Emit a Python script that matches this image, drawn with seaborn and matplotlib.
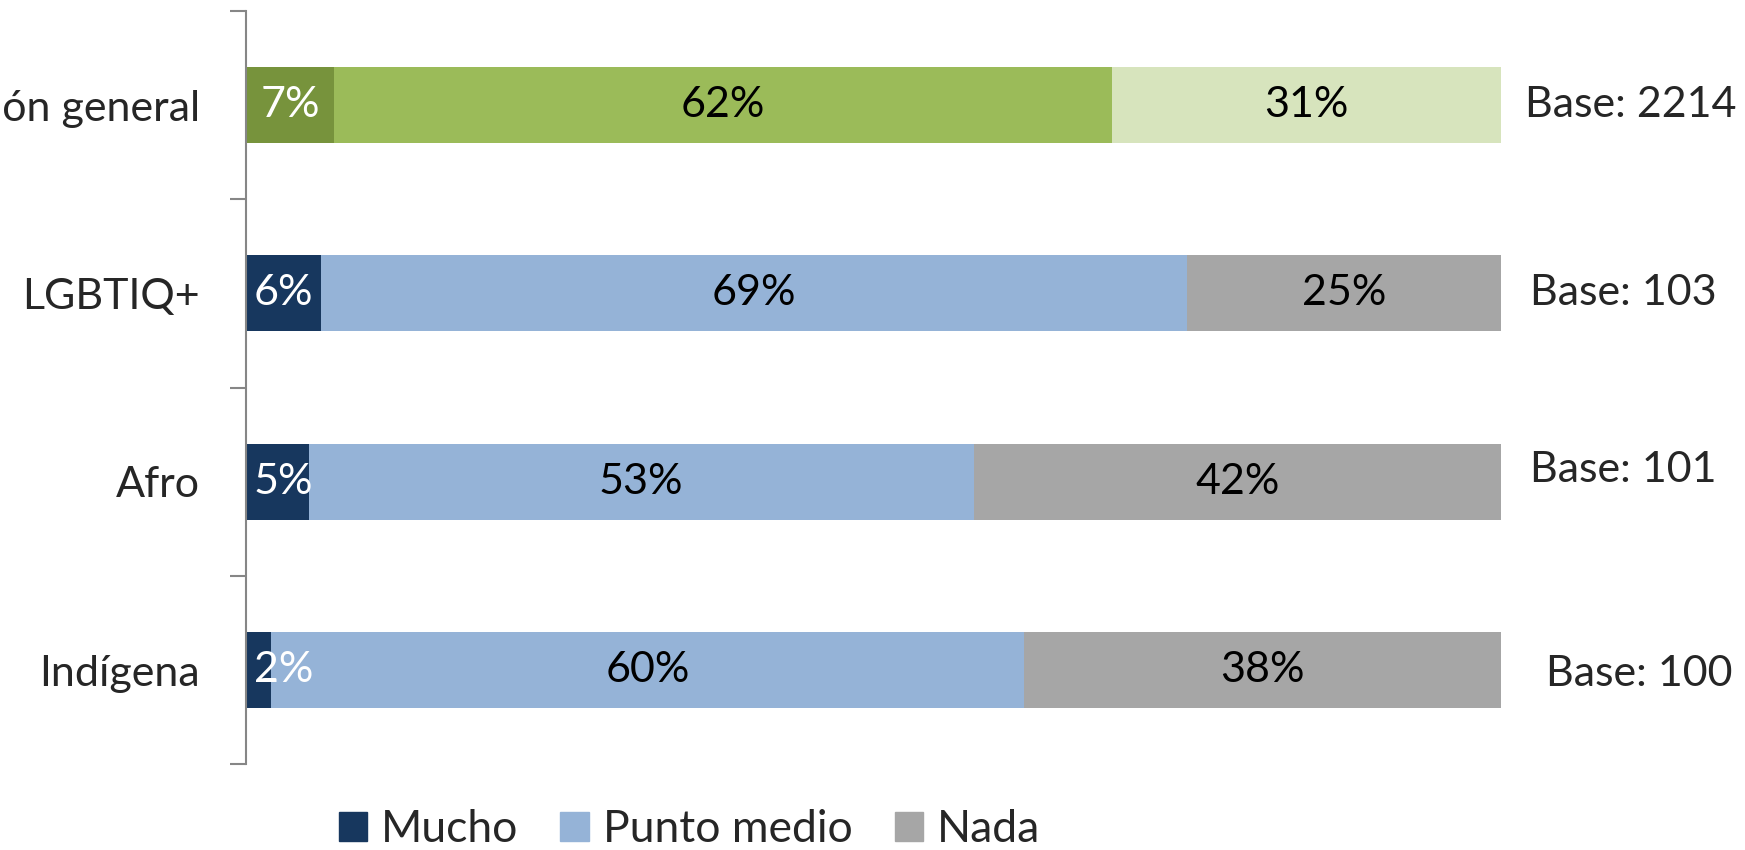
import matplotlib
matplotlib.use("Agg")
import matplotlib.pyplot as plt
from matplotlib.patches import Patch
import pandas as pd
import seaborn as sns

# datos
grupos = ["Población general", "LGBTIQ+", "Afro", "Indígena"]
mucho = [7, 6, 5, 2]
punto_medio = [62, 69, 53, 60]
nada = [31, 25, 42, 38]
bases = ["Base: 2214", "Base: 103", "Base: 101", "Base: 100"]

col_mucho = ["#77933C", "#17375E", "#17375E", "#17375E"]
col_medio = ["#9BBB59", "#95B3D7", "#95B3D7", "#95B3D7"]
col_nada = ["#D7E4BD", "#A6A6A6", "#A6A6A6", "#A6A6A6"]

sns.set_style("white")
plt.rcParams["font.family"] = ["Lato", "DejaVu Sans"]

df = pd.DataFrame({"grupo": grupos, "mucho": mucho, "medio": punto_medio, "nada": nada})
df["c2"] = df["mucho"] + df["medio"]
df["c3"] = df["c2"] + df["nada"]

fig = plt.figure(figsize=(17.45, 8.5), dpi=100)
ax = fig.add_axes([0.141, 0.101, 0.719, 0.886])

# apilado: se dibuja el total y se tapa con los acumulados
for col, pal in [("c3", col_nada), ("c2", col_medio), ("mucho", col_mucho)]:
    sns.barplot(data=df, x=col, y="grupo", hue="grupo", order=grupos,
                palette=dict(zip(grupos, pal)), width=0.404, legend=False,
                saturation=1, linewidth=0, ax=ax)

fs = 31
for i in range(len(grupos)):
    ax.text(max(mucho[i] / 2, 3.0), i, f"{mucho[i]}%", ha="center", va="center",
            color="white", fontsize=fs)
    ax.text(mucho[i] + punto_medio[i] / 2, i, f"{punto_medio[i]}%", ha="center",
            va="center", color="black", fontsize=fs)
    ax.text(mucho[i] + punto_medio[i] + nada[i] / 2, i, f"{nada[i]}%", ha="center",
            va="center", color="black", fontsize=fs)

base_x = [101.9, 102.3, 102.3, 103.6]
base_dy = [0.0, 0.0, -0.06, 0.02]
for i, b in enumerate(bases):
    ax.text(base_x[i], i + base_dy[i], b, ha="left", va="center", fontsize=fs,
            clip_on=False)

ax.set_xlim(0, 100)
ax.set_ylim(3.5, -0.5)
ax.set_xlabel("")
ax.set_ylabel("")
ax.set_xticks([])
ax.set_yticks(range(len(grupos)))
ax.set_yticklabels(grupos, fontsize=fs)
ax.set_yticks([-0.5, 0.5, 1.5, 2.5, 3.5], minor=True)
ax.tick_params(axis="y", which="major", length=0, pad=33)
ax.tick_params(axis="y", which="minor", length=11.5, width=1.5, color="#868686",
               direction="out", left=True)
for s in ["top", "right", "bottom"]:
    ax.spines[s].set_visible(False)
ax.spines["left"].set_color("#868686")
ax.spines["left"].set_linewidth(1.5)

handles = [Patch(color="#17375E", label="Mucho"),
           Patch(color="#95B3D7", label="Punto medio"),
           Patch(color="#A6A6A6", label="Nada")]
fig.legend(handles=handles, loc="center", bbox_to_anchor=(0.395, 0.024), ncol=3,
           frameon=False, fontsize=32, handlelength=0.65, handleheight=0.65,
           handletextpad=0.3, columnspacing=0.95)

fig.savefig("out.png", dpi=100)
